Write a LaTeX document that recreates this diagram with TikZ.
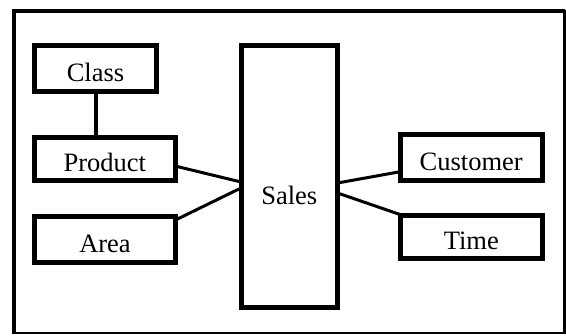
\documentclass[tikz,border=0pt]{standalone}
\usepackage{fontspec}
\setmainfont{Liberation Serif}
\begin{document}
\begin{tikzpicture}[x=1pt, y=-1pt,
  box/.style={draw, line width=5pt, rectangle, outer sep=0pt, inner sep=0pt,
    font=\fontsize{26.5}{30}\selectfont, text height=25pt, text depth=0pt},
  link/.style={line width=3pt}]
  \useasboundingbox (0,0) rectangle (566,336);
  % outer frame
  \draw[line width=2.5pt] (13.5,11) rectangle (564.5,333);
  \draw[line width=4pt] (13.5,333) -- (13.5,11) -- (564.5,11);

  % dimension boxes
  \node[box, minimum width=122pt, minimum height=46pt] (class) at (95.5,69) {Class};
  \node[box, minimum width=140.5pt, minimum height=43.5pt] (product) at (104.75,159.25) {Product};
  \node[box, minimum width=141pt, minimum height=45.5pt] (area) at (105,239.75) {Area};
  \node[box, minimum width=142.5pt, minimum height=45.5pt] (customer) at (471.25,157.75) {Customer};
  \node[box, minimum width=142.5pt, minimum height=43pt] (time) at (471.25,237) {Time};
  % fact box
  \node[box, minimum width=96.5pt, minimum height=262pt, text height=56pt] (sales) at (289.25,177) {Sales};

  % connectors
  \draw[line width=4pt] (class.south) -- (class.south |- product.north);
  \draw[link] ([yshift=-6.75pt]product.east) -- ([yshift=-5pt]sales.west);
  \draw[link] ([yshift=-3pt]area.north east) -- ([yshift=-11pt]sales.west);
  \draw[link] ([yshift=-6pt]sales.east) -- ([yshift=-14pt]customer.west);
  \draw[link] ([yshift=-16pt]sales.east) -- ([yshift=1pt]time.north west);
\end{tikzpicture}
\end{document}
